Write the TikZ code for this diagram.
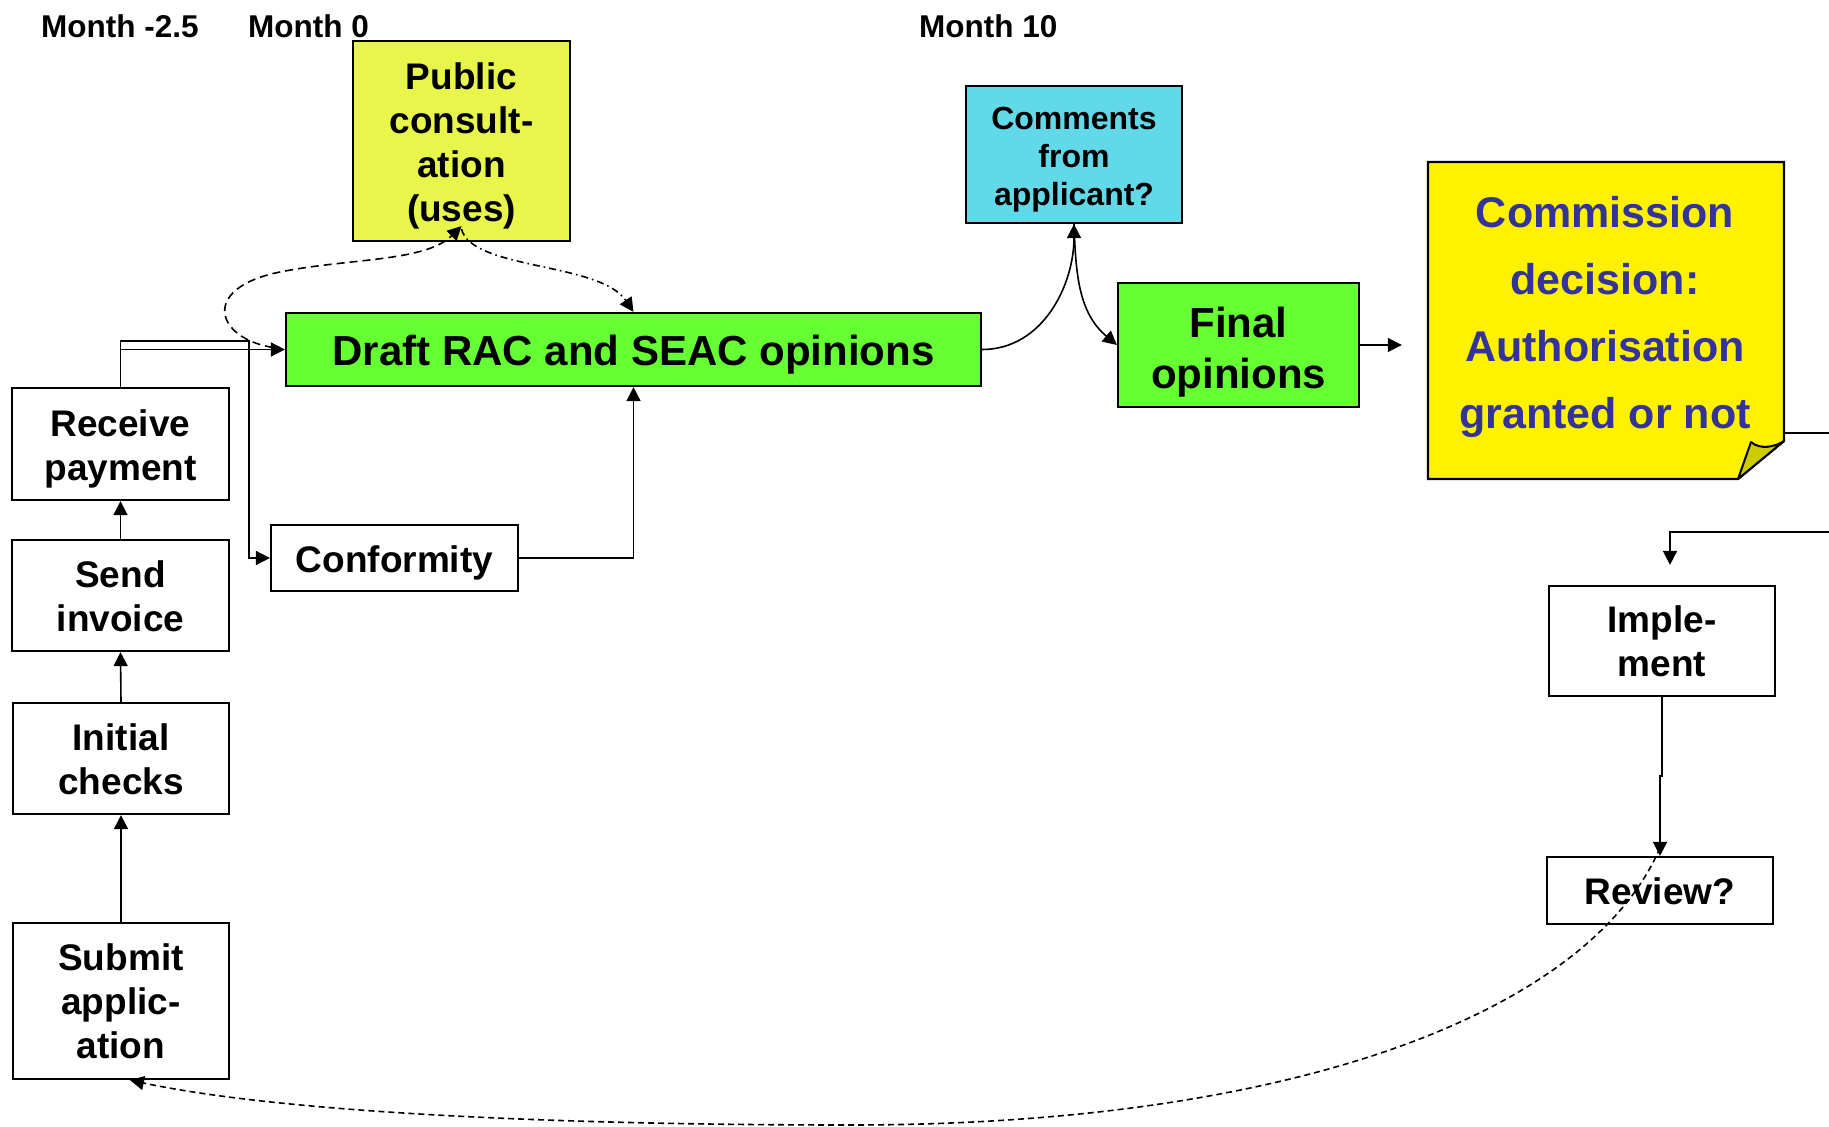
\documentclass[tikz,border=0pt]{standalone}
\usepackage{fontspec}
\setmainfont{Liberation Sans}
\usetikzlibrary{arrows.meta}
\definecolor{pcyellow}{RGB}{232,246,76}
\definecolor{rgreen}{RGB}{102,255,51}
\definecolor{ccyan}{RGB}{98,217,232}
\definecolor{navytext}{RGB}{51,51,153}
\definecolor{foldc}{RGB}{204,204,0}
\tikzset{
  box/.style={draw=black, line width=2.2pt, inner sep=0pt},
  txt/.style={align=center, inner sep=0pt, font=\bfseries\fontsize{37}{44}\selectfont},
  conn/.style={line width=1.6pt, -{Triangle[length=14pt,width=14pt]}},
  dashline/.style={line width=1.6pt, dash pattern=on 8pt off 5pt},
  dotdash/.style={line width=1.6pt, dash pattern=on 7pt off 4pt on 1.6pt off 4pt},
  finedash/.style={line width=1.6pt, dash pattern=on 6pt off 4pt},
  month/.style={font=\bfseries\fontsize{31.5}{36}\selectfont, inner sep=0pt, anchor=base west}
}
\begin{document}
\begin{tikzpicture}[x=1pt,y=-1pt]
\useasboundingbox (0,0) rectangle (1829,1127);

% month labels
\node[month] (m1) at (41,37) {Month -2.5};
\node[month] (m2) at (248,37) {Month 0};
\node[month] (m3) at (919,37) {Month 10};

% left column
\node[box, minimum width=217, minimum height=112] (rec) at (120.5,444) {};
\node[txt] (rect) at ([yshift=-5pt]rec.center) {Receive\\payment};
\node[box, minimum width=217, minimum height=111] (send) at (120.5,595.5) {};
\node[txt] (sendt) at ([yshift=-1pt]send.center) {Send\\invoice};
\node[box, minimum width=216, minimum height=111] (init) at (121,758.5) {};
\node[txt] (initt) at ([yshift=-1pt]init.center) {Initial\\checks};
\node[box, minimum width=216, minimum height=156] (submit) at (121,1001) {};
\node[txt] (submitt) at (submit.center) {Submit\\applic-\\ation};

% middle
\node[box, fill=pcyellow, minimum width=217, minimum height=200] (pc) at (461.5,141) {};
\node[txt] (pct) at ([yshift=-5pt]pc.center) {Public\\consult-\\ation\\(uses)};
\node[box, fill=rgreen, minimum width=695, minimum height=73] (draft) at (633.5,349.5) {};
\node[txt, font=\bfseries\fontsize{42}{50}\selectfont] (draftt) at ([yshift=-5pt]draft.center) {Draft RAC and SEAC opinions};
\node[box, minimum width=247, minimum height=66] (conf) at (394.5,558) {};
\node[txt] (conft) at ([yshift=-5pt]conf.center) {Conformity};

% right
\node[box, fill=ccyan, minimum width=216, minimum height=137] (comm) at (1074,154.5) {};
\node[txt, font=\bfseries\fontsize{32}{38}\selectfont] (commt) at ([yshift=-5pt]comm.center) {Comments\\from\\applicant?};
\node[box, fill=rgreen, minimum width=241, minimum height=124] (final) at (1238.5,345) {};
\node[txt, font=\bfseries\fontsize{42}{51}\selectfont] (finalt) at ([yshift=-7pt]final.center) {Final\\opinions};

% commission decision (note with folded corner)
\path[fill=yellow, draw=black, line width=2.2pt, line join=miter]
  (1428,162) -- (1784,162) -- (1784,441) -- (1738,479) -- (1428,479) -- cycle;
\path[fill=foldc, draw=black, line width=2pt, line join=round]
  (1738,479) -- (1751,442) .. controls (1760,450) and (1775,447) .. (1784,441) -- cycle;
\node[align=center, inner sep=0pt, text=navytext, minimum width=356, minimum height=317,
  font=\bfseries\fontsize{43}{67}\selectfont] (dec) at (1605,316.5)
  {Commission\\decision:\\Authorisation\\granted or not};

\node[box, minimum width=226, minimum height=110] (impl) at (1662,641) {};
\node[txt] (implt) at (impl.center) {Imple-\\ment};
\node[box, minimum width=226, minimum height=67] (review) at (1660,890.5) {};
\node[txt] (reviewt) at ([yshift=-1pt]review.center) {Review?};

% coordinates
\coordinate (j1) at (120.5,341);
\coordinate (j2) at (249,341);
\coordinate (r1) at (1850,433);
\coordinate (r2) at (1850,532);
\coordinate (r3) at (1670,532);
\coordinate (jj) at (0,776);

% left column connectors
\draw[conn] (submit.north) -- (init.south);
\draw[conn] (init.north) -- (send.south);
\draw[conn] (send.north) -- (rec.south);
\draw[conn] (rec.north) -- (j1) -- (j2) |- (conf.west);
\draw[conn] (rec.north |- draft.west) -- (draft.west);
\draw[conn] (conf.east) -| (draft.south);

% public consultation loops
\draw[dashline, -{Triangle[length=14pt,width=14pt]}]
  ([xshift=-12pt,yshift=2pt]draft.west) .. controls (215,338) and (200,288) .. (280,272)
  .. controls (350,258) and (425,262) .. ([yshift=16pt]pc.south);
\draw[dotdash, -{Triangle[length=14pt,width=14pt]}]
  ([yshift=13pt]pc.south) .. controls (472,270) and (600,262) .. (draft.north);

% draft -> comments -> final
\draw[conn] (draft.east) to[out=0,in=-90] (comm.south);
\draw[conn] (comm.south) to[out=-88,in=140] (final.west);
\draw[conn, shorten >=25pt] (final.east) -- (final.east -| dec.west);

% decision -> implement
\draw[conn, shorten >=20pt] (r1 -| dec.east) -- (r1) -- (r2) -- (r3) -- (r3 |- impl.north);

% implement -> review
\draw[conn] (impl.south) -- (impl.south |- jj) -- (review.north |- jj) -- (review.north);

% review -> submit (dashed)
\draw[finedash, -{Triangle[length=14pt,width=14pt]}]
  ([yshift=8pt]review.north) .. controls (1590,1010) and (1300,1125) .. (850,1125)
  .. controls (500,1125) and (260,1108) .. ([xshift=9pt]submit.south);
\end{tikzpicture}
\end{document}
